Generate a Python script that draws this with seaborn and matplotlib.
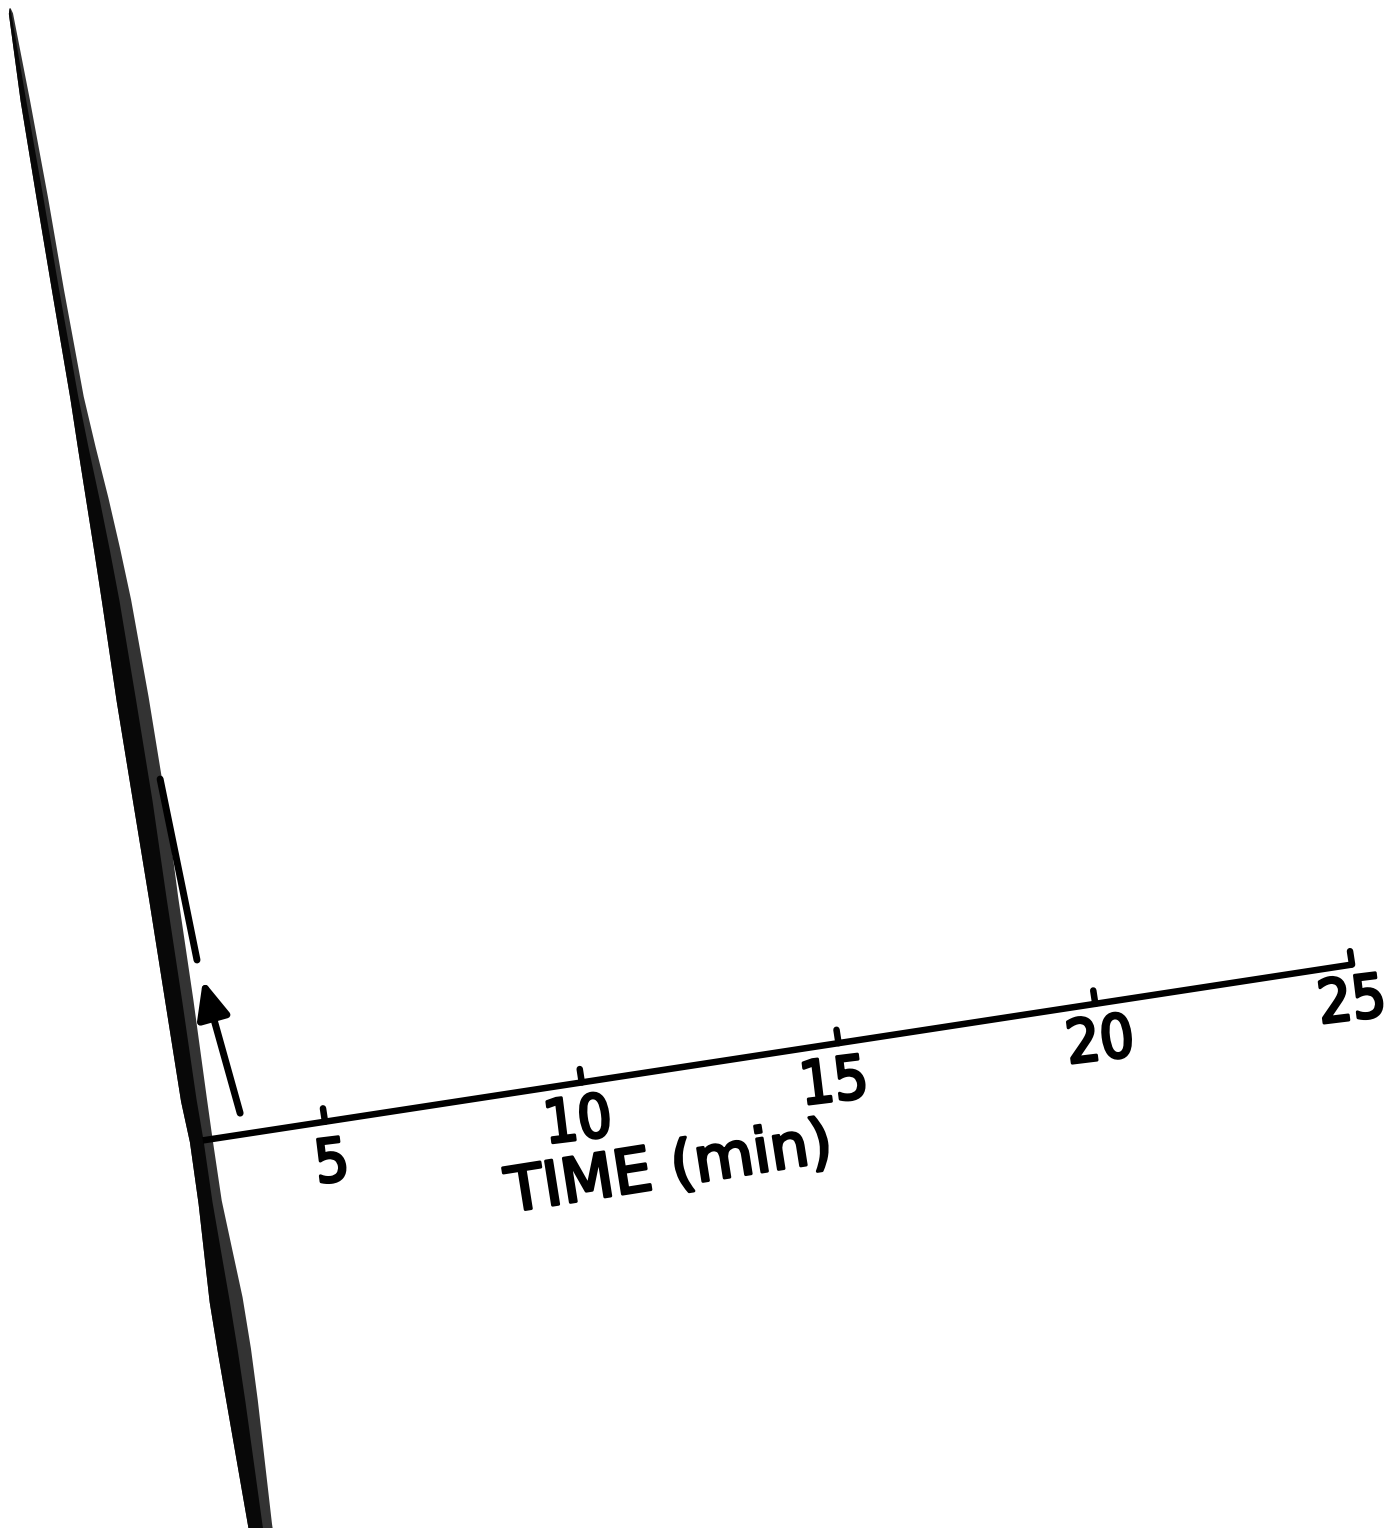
import numpy as np
import pandas as pd
import matplotlib
matplotlib.use("Agg")
import matplotlib.pyplot as plt
from matplotlib.transforms import Affine2D
import matplotlib.patheffects as pe
import seaborn as sns

# ---------------- data (time in min, signal in chart divisions) ----------------
time_ticks = [5, 10, 15, 20, 25]
tick_labels = ["5", "10", "15", "20", "25"]
tick_label_time = [5.01, 9.81, 14.80, 19.98, 24.89]
tick_label_signal = [-0.84, -0.76, -0.77, -0.76, -0.73]
axis_label = "TIME (min)"

baseline_time = [2.62, 25.0]
baseline_signal = [0.0, 0.0]

# off-scale solvent peak drawn as a broad band: signal level, band centre, band width
band_signal = [22.1, 22.0, 20.3, 18.4, 16.6, 14.5, 13.5, 12.5, 11.5, 10.5, 8.6, 6.6, 4.7, 2.7, 0.8, 0.0, -1.2, -2.2, -3.1, -4.1, -5.1, -7.5, -8.6]
band_center = [2.25, 2.25, 2.27, 2.31, 2.34, 2.39, 2.43, 2.48, 2.52, 2.55, 2.57, 2.59, 2.58, 2.58, 2.57, 2.59, 2.58, 2.59, 2.60, 2.61, 2.61, 2.59, 2.59]
band_width = [0.02, 0.08, 0.18, 0.22, 0.23, 0.26, 0.34, 0.43, 0.50, 0.56, 0.62, 0.62, 0.56, 0.54, 0.50, 0.44, 0.45, 0.55, 0.64, 0.64, 0.60, 0.46, 0.46]

# trailing edge of the peak
tail_time = [2.86, 2.91, 2.97, 3.035]
tail_signal = [7.0, 6.0, 4.8, 3.45]

# injection arrow (start -> tip)
arrow_start = (3.41, 0.41)
arrow_tip = (3.09, 3.05)

# ---------------- figure ----------------
sns.set_style("white")
plt.rcParams["font.family"] = ["DejaVu Sans"]

W, H = 1392, 1528
fig = plt.figure(figsize=(W / 100, H / 100), dpi=100)
ax = fig.add_axes([0, 0, 1, 1])

# chart frame is rotated on the page: time runs up to the right
theta = np.deg2rad(8.7)
k = 51.95
rot = Affine2D.from_values(k * np.cos(theta), -k * np.sin(theta),
                           -k * np.sin(theta), -k * np.cos(theta),
                           68.25, 1161.0)
tr = rot + ax.transData

ink = "black"

# band (peak)
bs = np.array(band_signal)
bc = np.array(band_center)
bw = np.array(band_width)
left = bc - bw / 2
right = bc + bw / 2
ax.fill_betweenx(bs, left, right, transform=tr, color="#333333", lw=0)
ax.fill_betweenx(bs, left, left + 0.6 * bw, transform=tr, color="#080808", lw=0)

# baseline / time axis
sns.lineplot(x=baseline_time, y=baseline_signal, ax=ax, color=ink, lw=4.7,
             estimator=None, sort=False, transform=tr, solid_capstyle="butt")
# ticks
ax.vlines(time_ticks, 0, 0.26, transform=tr, color=ink, lw=4.7, capstyle="round")

# tail
sns.lineplot(x=tail_time, y=tail_signal, ax=ax, color=ink, lw=5,
             estimator=None, sort=False, transform=tr, solid_capstyle="round")

# arrow
ax.annotate("", xy=arrow_tip, xytext=arrow_start, xycoords=tr, textcoords=tr,
            arrowprops=dict(arrowstyle="-|>,head_length=0.5,head_width=0.22",
                            lw=5, color=ink, mutation_scale=45,
                            shrinkA=0, shrinkB=0, capstyle="round"))

# labels
thick = [pe.withStroke(linewidth=2.2, foreground=ink)]
for t, s, lab in zip(tick_label_time, tick_label_signal, tick_labels):
    ax.text(t, s, lab, transform=tr, ha="center", va="center",
            fontsize=43, fontstretch="condensed", rotation=7, color=ink,
            path_effects=thick)
ax.text(11.42, -1.92, axis_label, transform=tr, ha="center", va="center",
        fontsize=44, rotation=9, color=ink, path_effects=thick)

ax.set_xlim(0, W)
ax.set_ylim(H, 0)
ax.axis("off")
fig.savefig("out.png", dpi=100, facecolor="white")
